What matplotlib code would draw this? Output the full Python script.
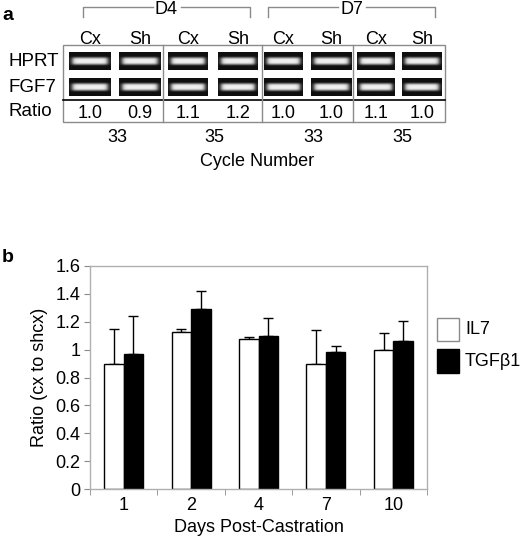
import numpy as np
import matplotlib
matplotlib.use("Agg")
import matplotlib.pyplot as plt
from matplotlib.patches import Rectangle

plt.rcParams['font.family'] = ['Liberation Sans', 'DejaVu Sans']

# ---- Panel a data ----
groups = ["D4", "D7"]
lane_labels = ["Cx", "Sh", "Cx", "Sh", "Cx", "Sh", "Cx", "Sh"]
row_labels = ["HPRT", "FGF7"]
ratios = ["1.0", "0.9", "1.1", "1.2", "1.0", "1.0", "1.1", "1.0"]
cycles = ["33", "35", "33", "35"]

# ---- Panel b data ----
days = ["1", "2", "4", "7", "10"]
il7 = [0.90, 1.13, 1.075, 0.90, 1.00]
il7_err = [0.25, 0.02, 0.018, 0.24, 0.117]
tgf = [0.97, 1.29, 1.10, 0.983, 1.064]
tgf_err = [0.27, 0.128, 0.13, 0.041, 0.141]

W, H = 520, 536
fig = plt.figure(figsize=(W / 100, H / 100), dpi=100)

# full-figure overlay axes in pixel coordinates for panel a
ov = fig.add_axes([0, 0, 1, 1])
ov.set_xlim(0, W)
ov.set_ylim(H, 0)
ov.axis("off")

fs = 13
gray = "#8a8a8a"
ov.text(2, 16, "a", fontsize=14, fontweight="bold", va="center", ha="left")
ov.text(2, 257, "b", fontsize=14, fontweight="bold", va="center", ha="left")

# brackets
brackets = [(83, 250), (268, 435)]
for (x0, x1), g in zip(brackets, groups):
    xm = (x0 + x1) / 2
    ov.plot([x0, x0, xm - 14], [17, 7, 7], color=gray, lw=1)
    ov.plot([xm + 14, x1, x1], [7, 7, 17], color=gray, lw=1)
    ov.text(xm, 9, g, fontsize=fs, ha="center", va="center")

lane_x = [(69, 111), (119, 161), (168, 208), (218, 258),
          (264, 303), (311, 352), (357, 395), (402, 442)]
for (x0, x1), lab, r in zip(lane_x, lane_labels, ratios):
    xc = (x0 + x1) / 2
    ov.text(xc, 39, lab, fontsize=fs, ha="center", va="center")
    ov.text(xc, 114, r, fontsize=fs, ha="center", va="center")

# gel band images
row_y = [(52, 70), (78, 96)]
yy = np.linspace(-1, 1, 30)[:, None]
xx = np.linspace(-1, 1, 80)[None, :]
band = np.exp(-(yy / 0.42) ** 4) * (1 / (1 + np.exp((np.abs(xx) - 0.85) / 0.06)))
img = 0.06 + 0.88 * band
for (y0, y1) in row_y:
    for (x0, x1) in lane_x:
        ov.imshow(img, cmap="gray", vmin=0, vmax=1, extent=(x0, x1, y1, y0),
                  aspect="auto", interpolation="bilinear", zorder=2)

for lab, (y0, y1) in zip(row_labels, row_y):
    ov.text(9, (y0 + y1) / 2 + 1, lab, fontsize=fs + 0.5, ha="left", va="center")
ov.text(9, 111, "Ratio", fontsize=fs + 0.5, ha="left", va="center")

# box
ov.add_patch(Rectangle((63, 45), 445 - 63, 122 - 45, fill=False, ec=gray, lw=1, zorder=3))
ov.plot([63, 445], [99.5, 99.5], color="black", lw=1.2, zorder=3)
for xv in [163, 262, 353]:
    ov.plot([xv, xv], [45, 122], color=gray, lw=1, zorder=3)

for xc, c in zip([117, 214, 313, 402], cycles):
    ov.text(xc, 137, c, fontsize=fs, ha="center", va="center")
ov.text(257, 161, "Cycle Number", fontsize=fs, ha="center", va="center")

# ---- Panel b ----
ax = fig.add_axes([90 / W, (H - 489) / H, (427 - 90) / W, (489 - 266) / H])
x = np.arange(len(days))
bw = 0.29
ax.bar(x - bw / 2, il7, bw, color="white", edgecolor="black", lw=1, zorder=2, label="IL7")
ax.bar(x + bw / 2, tgf, bw, color="black", edgecolor="black", lw=1, zorder=2, label="TGFβ1")
ax.errorbar(x - bw / 2, il7, yerr=[np.zeros(len(il7)), il7_err], fmt="none",
            ecolor="black", elinewidth=1, capsize=3.5, capthick=1, zorder=1)
ax.errorbar(x + bw / 2, tgf, yerr=[np.zeros(len(tgf)), tgf_err], fmt="none",
            ecolor="black", elinewidth=1, capsize=3.5, capthick=1, zorder=1)
ax.set_xlim(-0.5, len(days) - 0.5)
ax.set_ylim(0, 1.6)
ax.set_yticks(np.arange(0, 1.61, 0.2))
ax.set_yticklabels(["0", "0.2", "0.4", "0.6", "0.8", "1", "1.2", "1.4", "1.6"])
ax.set_xticks(x)
ax.set_xticklabels(days)
ax.set_xticks(np.arange(-0.5, len(days), 1), minor=True)
ax.tick_params(axis="x", which="major", length=0, labelsize=fs, pad=6)
ax.tick_params(axis="x", which="minor", length=4, color=gray)
ax.tick_params(axis="y", length=4, color=gray, labelsize=fs, pad=3)
for s in ax.spines.values():
    s.set_color("#b0b0b0")
    s.set_linewidth(1)
ax.set_xlabel("Days Post-Castration", fontsize=fs, labelpad=3)
ax.set_ylabel("Ratio (cx to shcx)", fontsize=fs, labelpad=5)

# legend (manual, in pixel coordinates on overlay)
ov.add_patch(Rectangle((437, 318), 22, 23, fc="white", ec=gray, lw=1))
ov.text(465, 330, "IL7", fontsize=fs, ha="left", va="center")
ov.add_patch(Rectangle((437, 349), 22, 24, fc="black", ec="black", lw=1))
ov.text(465, 361, "TGFβ1", fontsize=fs, ha="left", va="center")

fig.savefig("out.png", dpi=100)
